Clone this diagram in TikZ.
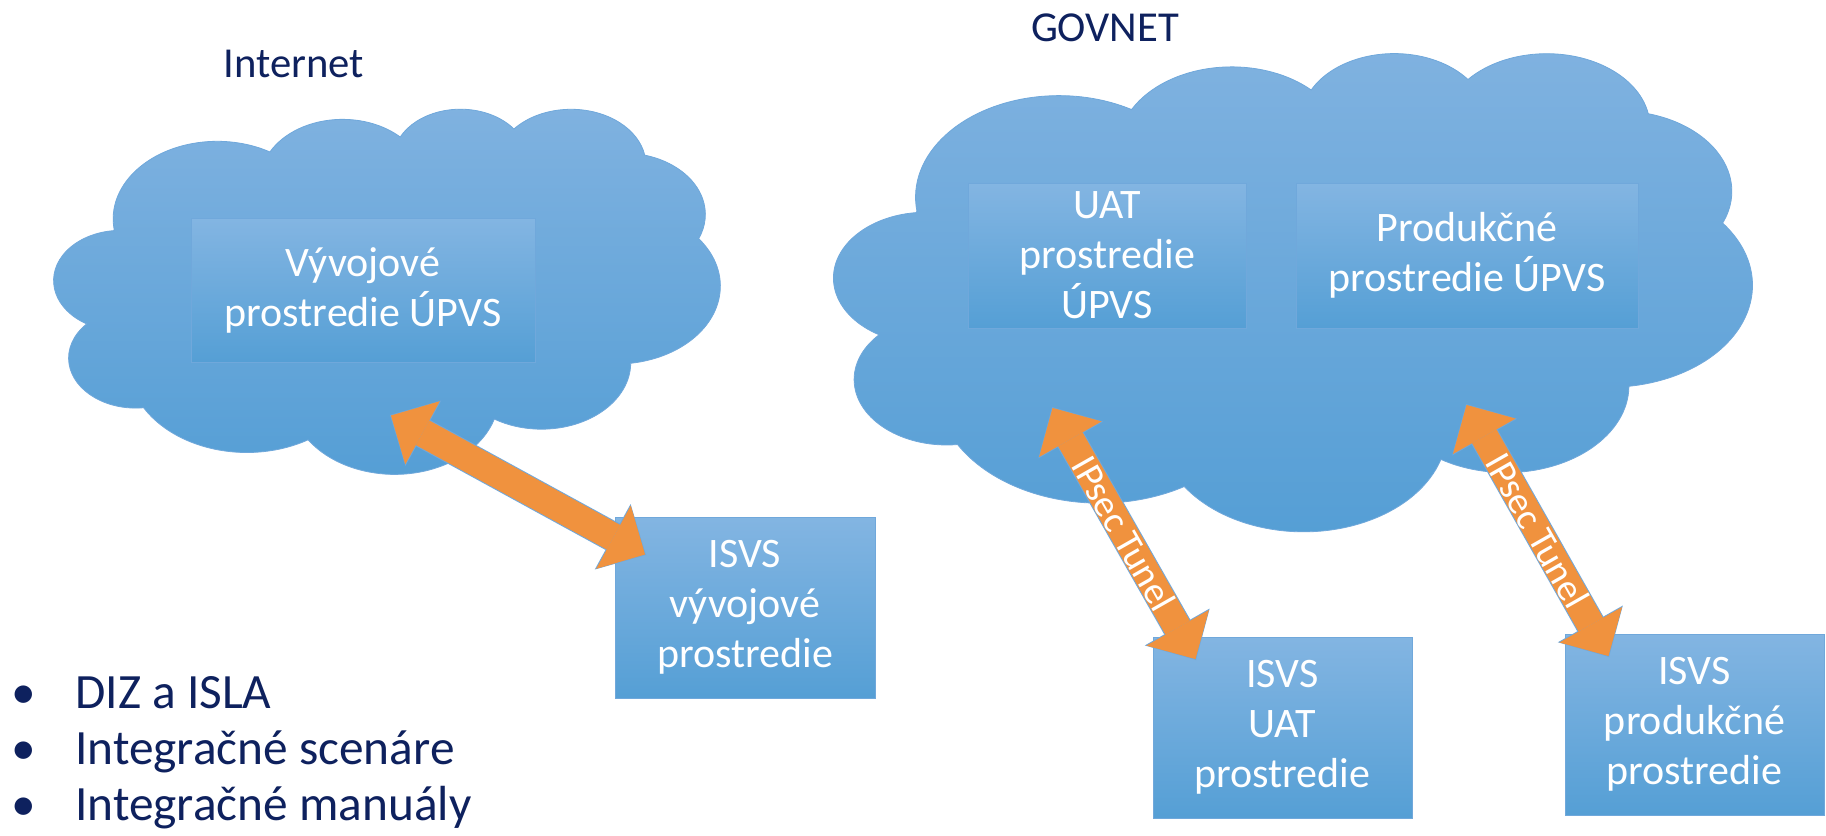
\documentclass[tikz,border=0pt]{standalone}
\usepackage{fontspec}
\setmainfont{Carlito}
\usepackage{array}
\usetikzlibrary{arrows.meta}

\definecolor{navytext}{RGB}{14,33,94}
\definecolor{cloudtop}{RGB}{128,178,224}
\definecolor{cloudbot}{RGB}{84,158,213}
\definecolor{boxtop}{RGB}{131,181,226}
\definecolor{boxbot}{RGB}{85,159,213}
\definecolor{edgeblue}{RGB}{112,168,219}
\definecolor{tunnelorange}{RGB}{240,146,62}

\begin{document}
\begin{tikzpicture}[x=0.75pt,y=0.75pt,yscale=-1,xscale=1,
  netcloud/.style={top color=cloudtop, bottom color=cloudbot, draw=edgeblue, line width=0.6pt},
  envbox/.style={rectangle, top color=boxtop, bottom color=boxbot, draw=edgeblue, line width=0.6pt, text=white, align=center, inner sep=0pt, font=\fontsize{31.5}{37.5}\selectfont},
  nettitle/.style={text=navytext, inner sep=0pt, font=\fontsize{32}{38}\selectfont},
  tunneledge/.style={draw=edgeblue, line width=22.5pt, {Triangle[width=56pt,length=28.5pt,line width=0pt]}-{Triangle[width=56pt,length=28.5pt,line width=0pt]}},
  tunnelarrow/.style={draw=tunnelorange, line width=21pt, shorten <=0.8pt, shorten >=0.8pt, {Triangle[width=54pt,length=27pt,line width=0pt]}-{Triangle[width=54pt,length=27pt,line width=0pt]}},
  tunnellabel/.style={text=white, inner sep=0pt, rotate=-60.4, font=\fontsize{28.5}{34}\selectfont}]
\path[use as bounding box] (0,0) rectangle (1826,835);

%Shape: Cloud [Internet]
\begin{scope}[shift={(54,108)}, xscale=1.54167, yscale=0.84491]
\shade[netcloud] (39.00,143.70)
  arc[start angle=-187.746, delta angle=128.111, x radius=67.53, y radius=91.90]
  arc[start angle=-152.033, delta angle=106.600, x radius=53.33, y radius=72.67]
  arc[start angle=-153.481, delta angle=116.156, x radius=43.65, y radius=59.45]
  arc[start angle=-139.709, delta angle=129.498, x radius=48.57, y radius=65.95]
  arc[start angle=-74.771, delta angle=97.985, x radius=53.33, y radius=72.73]
  arc[start angle=-37.566, delta angle=119.422, x radius=67.75, y radius=92.20]
  arc[start angle=0.460, delta angle=121.516, x radius=57.85, y radius=78.67]
  arc[start angle=16.846, delta angle=129.397, x radius=67.52, y radius=92.15]
  arc[start angle=59.019, delta angle=91.149, x radius=77.20, y radius=105.43]
  arc[start angle=-276.698, delta angle=139.782, x radius=43.60, y radius=59.18]
  arc[start angle=-239.625, delta angle=143.737, x radius=43.45, y radius=59.45]
  -- cycle;
\end{scope}
%Shape: Cloud [GOVNET]
\begin{scope}[shift={(834,52)}, xscale=2.12500, yscale=1.10648]
\shade[netcloud] (39.00,143.70)
  arc[start angle=-187.746, delta angle=128.111, x radius=67.53, y radius=91.90]
  arc[start angle=-152.033, delta angle=106.600, x radius=53.33, y radius=72.67]
  arc[start angle=-153.481, delta angle=116.156, x radius=43.65, y radius=59.45]
  arc[start angle=-139.709, delta angle=129.498, x radius=48.57, y radius=65.95]
  arc[start angle=-74.771, delta angle=97.985, x radius=53.33, y radius=72.73]
  arc[start angle=-37.566, delta angle=119.422, x radius=67.75, y radius=92.20]
  arc[start angle=0.460, delta angle=121.516, x radius=57.85, y radius=78.67]
  arc[start angle=16.846, delta angle=129.397, x radius=67.52, y radius=92.15]
  arc[start angle=59.019, delta angle=91.149, x radius=77.20, y radius=105.43]
  arc[start angle=-276.698, delta angle=139.782, x radius=43.60, y radius=59.18]
  arc[start angle=-239.625, delta angle=143.737, x radius=43.45, y radius=59.45]
  -- cycle;
\end{scope}

% Text Node
\node[nettitle, anchor=base] (internet) at (294,77) {Internet};
% Text Node
\node[nettitle, anchor=base] (govnet) at (1105,41) {GOVNET};

%Shape: Rectangle [environments in the clouds]
\node[envbox, minimum width=258pt, minimum height=108pt] (devEnv) at (363,290) {Vývojové\\prostredie ÚPVS};
\node[envbox, minimum width=208.5pt, minimum height=108.75pt] (uatEnv) at (1107,255.5) {UAT\\prostredie\\ÚPVS};
\node[envbox, minimum width=256.5pt, minimum height=108.75pt] (prodEnv) at (1467,255.5) {Produkčné\\prostredie ÚPVS};

%Shape: Rectangle [ISVS environments]
\node[envbox, minimum width=195pt, minimum height=135.75pt] (isvsDev) at (745,607.5) {ISVS\\vývojové\\prostredie};
\node[envbox, minimum width=194.25pt, minimum height=135.75pt] (isvsUat) at (1282.5,727.5) {ISVS\\UAT\\prostredie};
\node[envbox, minimum width=194.25pt, minimum height=135.75pt] (isvsProd) at (1694.5,724.5) {ISVS\\produkčné\\prostredie};

% arrow ends
\coordinate (devTop) at (390,415);
\coordinate (devBot) at (646,555);
\coordinate (uatTop) at (1052,407);
\coordinate (uatBot) at (1196,660);
\coordinate (prodTop) at (1466,404);
\coordinate (prodBot) at (1609,657);

%Double arrows
\draw[tunneledge] (devTop) -- (devBot);
\draw[tunnelarrow] (devTop) -- (devBot);
\draw[tunneledge] (uatTop) -- (uatBot);
\draw[tunnelarrow] (uatTop) -- (uatBot) node[tunnellabel, midway] (uatTunnel) {IPsec Tunel};
\draw[tunneledge] (prodTop) -- (prodBot);
\draw[tunnelarrow] (prodTop) -- (prodBot) node[tunnellabel, midway] (prodTunnel) {IPsec Tunel};

% Text Node
\node[text=navytext, inner sep=0pt, anchor=base west, font=\fontsize{37}{42}\selectfont] (topics) at (11,708)
  {\begin{tabular}[t]{@{}p{48pt}@{}l@{}}\textbullet & DIZ a ISLA\\ \textbullet & Integračné scenáre\\ \textbullet & Integračné manuály\end{tabular}};

\end{tikzpicture}
\end{document}
